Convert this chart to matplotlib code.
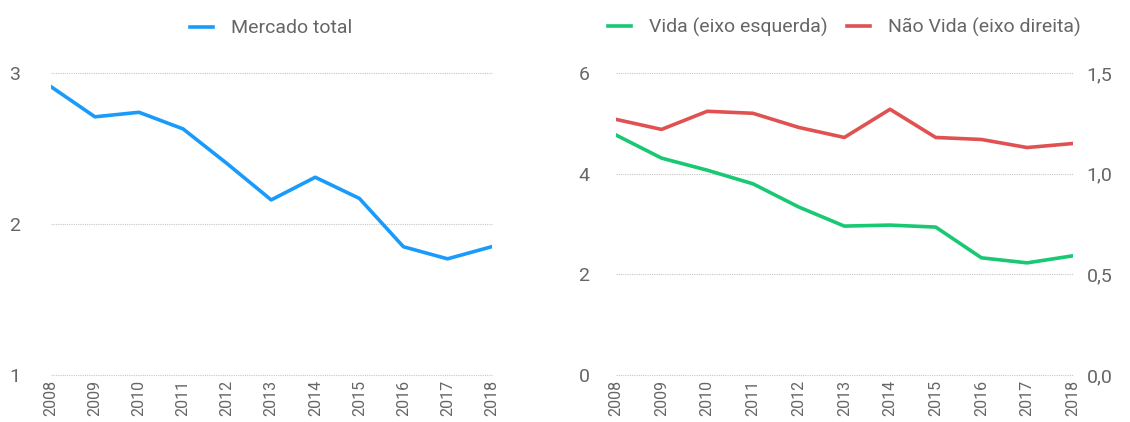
import matplotlib.pyplot as plt
from matplotlib.ticker import FuncFormatter

plt.rcParams['font.family'] = ['Roboto', 'DejaVu Sans']

years = [2008, 2009, 2010, 2011, 2012, 2013, 2014, 2015, 2016, 2017, 2018]
mercado_total = [2.91, 2.71, 2.74, 2.63, 2.40, 2.16, 2.31, 2.17, 1.85, 1.77, 1.85]
vida = [4.77, 4.31, 4.07, 3.80, 3.34, 2.96, 2.98, 2.94, 2.33, 2.23, 2.37]
nao_vida = [1.27, 1.22, 1.31, 1.30, 1.23, 1.18, 1.32, 1.18, 1.17, 1.13, 1.15]

txt = '#666666'
blue = '#1a9bfc'
green = '#19c872'
red = '#e05252'

fig = plt.figure(figsize=(11.3, 4.22), dpi=100)

def style(ax):
    for s in ax.spines.values():
        s.set_visible(False)
    ax.grid(axis='y', color='#c8c8c8', linestyle=(0, (1, 1)), linewidth=0.8)
    ax.set_axisbelow(True)
    ax.tick_params(length=0, colors=txt, labelsize=14)
    ax.set_xlim(2008, 2018)
    ax.set_xticks(years)
    ax.set_xticklabels([str(y) for y in years], rotation=90, fontsize=11.5)
    for gl in ax.get_ygridlines():
        gl.set_clip_on(False)

# left panel
ax1 = fig.add_axes([0.045, 0.111, 0.39, 0.716])
ax1.plot(years, mercado_total, color=blue, lw=2.6, label='Mercado total')
ax1.set_ylim(1, 3)
ax1.set_yticks([1, 2, 3])
style(ax1)
ax1.tick_params(axis='y', pad=22)
ax1.legend(loc='lower center', bbox_to_anchor=(0.5, 1.06), frameon=False,
           fontsize=14, labelcolor=txt, handlelength=1.2, handletextpad=0.9)

# right panel
ax2 = fig.add_axes([0.545, 0.111, 0.4044, 0.716])
l1, = ax2.plot(years, vida, color=green, lw=2.6, label='Vida (eixo esquerda)')
ax2.set_ylim(0, 6)
ax2.set_yticks([0, 2, 4, 6])
style(ax2)
ax2.tick_params(axis='y', pad=19)

ax3 = ax2.twinx()
l2, = ax3.plot(years, nao_vida, color=red, lw=2.6, label='Não Vida (eixo direita)')
ax3.set_ylim(0, 1.5)
ax3.set_yticks([0, 0.5, 1.0, 1.5])
ax3.yaxis.set_major_formatter(FuncFormatter(lambda v, p: f'{v:.1f}'.replace('.', ',')))
for s in ax3.spines.values():
    s.set_visible(False)
ax3.tick_params(length=0, colors=txt, labelsize=14, pad=10)

ax2.legend(handles=[l1, l2], loc='lower center', bbox_to_anchor=(0.5, 1.06),
           ncol=2, frameon=False, fontsize=14, labelcolor=txt,
           handlelength=1.2, handletextpad=0.9, columnspacing=1.0)

plt.savefig('out.png')
